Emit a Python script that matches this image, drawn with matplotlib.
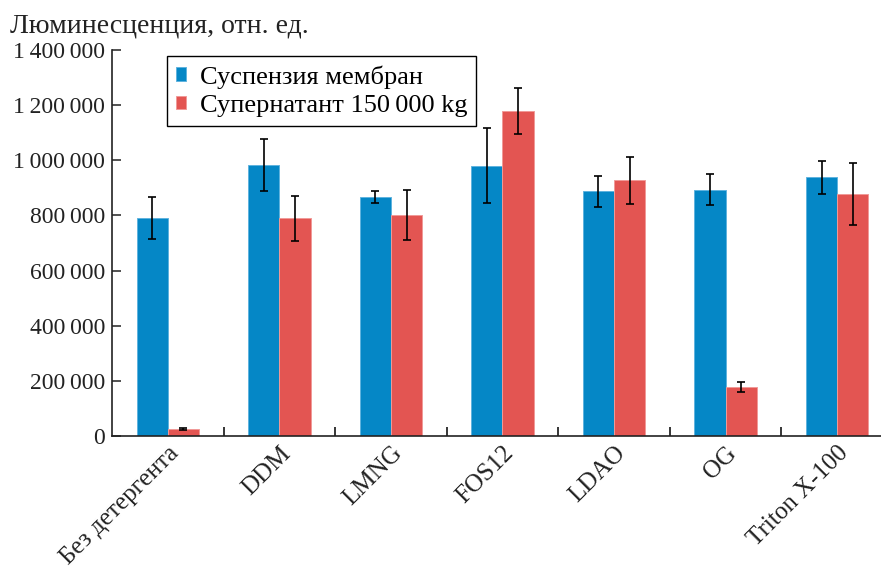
import numpy as np
import matplotlib
matplotlib.use("Agg")
import matplotlib.pyplot as plt
import matplotlib.transforms as mtransforms
from matplotlib.ticker import FuncFormatter, FixedLocator

plt.rcParams['font.family'] = ['Liberation Serif', 'DejaVu Serif']

categories = ["Без детергента", "DDM", "LMNG", "FOS12", "LDAO", "OG", "Triton X-100"]
membrane = [790000, 982000, 866000, 981000, 887000, 894000, 939000]
membrane_err = [77000, 95000, 22000, 135000, 57000, 55000, 60000]
supernatant = [24000, 790000, 801000, 1179000, 927000, 178000, 879000]
supernatant_err = [4000, 82000, 90000, 82000, 85000, 19000, 112000]
yticks = [0, 200000, 400000, 600000, 800000, 1000000, 1200000, 1400000]

blue = "#0587C6"
red = "#E35552"

fig = plt.figure(figsize=(8.81, 5.70), dpi=100)
# axis runs past the right edge of the picture, as in the reference
ax = fig.add_axes([112 / 881, 134 / 570, 781 / 881, 386 / 570])

x = np.arange(len(categories))
w = 0.28
err_kw = dict(ecolor="black", elinewidth=1.2, capsize=3.2, capthick=1.2)
ax.bar(x - w / 2, membrane, w, color=blue, edgecolor="#5FB3DE", linewidth=0.7,
       yerr=membrane_err, error_kw=err_kw, label="Суспензия мембран")
ax.bar(x + w / 2, supernatant, w, color=red, edgecolor="#F09A98", linewidth=0.7,
       yerr=supernatant_err, error_kw=err_kw, label="Супернатант 150\u2009000 kg")

ax.set_xlim(-0.5, 6.5)
ax.set_ylim(0, 1400000)

for side in ("top", "right"):
    ax.spines[side].set_visible(False)
for side in ("left", "bottom"):
    ax.spines[side].set_linewidth(1.2)
    ax.spines[side].set_color("#222222")

ax.set_yticks(yticks)
ax.yaxis.set_major_formatter(FuncFormatter(lambda v, p: f"{v:,.0f}".replace(",", "\u2009")))
ax.tick_params(axis="y", direction="in", length=6.5, width=1.1, pad=5,
               labelsize=17, colors="#222222")

ax.set_xticks(x)
ax.xaxis.set_minor_locator(FixedLocator(np.arange(0.5, 6.0, 1.0)))
ax.tick_params(axis="x", which="major", length=0, pad=10, labelsize=18)
ax.tick_params(axis="x", which="minor", direction="in", length=6.5, width=1.1)
ax.set_xticklabels(categories, rotation=45, ha="right", va="center",
                   rotation_mode="anchor", color="#222222")
offset = mtransforms.ScaledTranslation(8 / 100, 0, fig.dpi_scale_trans)
for lab in ax.get_xticklabels():
    lab.set_transform(lab.get_transform() + offset)

fig.text(10 / 881, 1 - 33 / 570, "Люминесценция, отн. ед.", fontsize=20,
         va="baseline", ha="left", color="#222222")

leg = ax.legend(loc="upper left", bbox_to_anchor=(0.070, 0.985), borderaxespad=0,
                fontsize=19, frameon=True, fancybox=False, edgecolor="black",
                framealpha=1, handlelength=0.4, handleheight=0.4,
                handletextpad=0.5, borderpad=0.35, labelspacing=0.25)
leg.get_frame().set_linewidth(1.0)

fig.savefig("out.png", dpi=100)
